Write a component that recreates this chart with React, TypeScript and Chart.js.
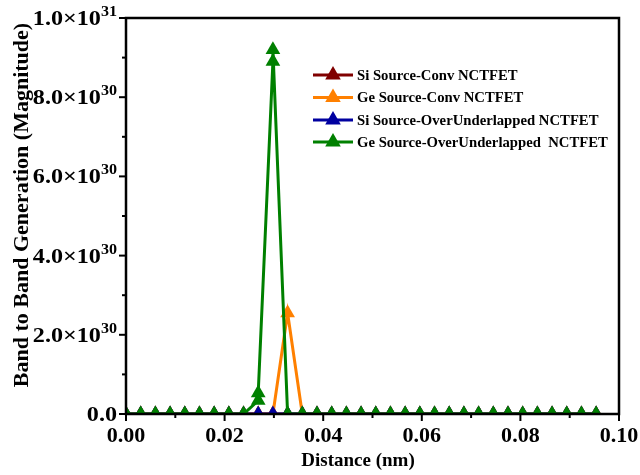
import React, { useEffect, useRef } from "react";
import { Chart, registerables } from "chart.js";

Chart.register(...registerables);

// ---- data ----
const baseX = [
  0, 0.00298, 0.00596, 0.00894, 0.01192, 0.0149, 0.01788, 0.02086, 0.02384, 0.02682,
  0.0298, 0.03278, 0.03576, 0.03874, 0.04172, 0.0447, 0.04768, 0.05066, 0.05364, 0.05662,
  0.0596, 0.06258, 0.06556, 0.06854, 0.07152, 0.0745, 0.07748, 0.08046, 0.08344, 0.08642,
  0.0894, 0.09238, 0.09536,
];
const siConvY = [
  0, 0, 0, 0, 0, 0, 0, 0, 0, 0, 0, 0, 0, 0, 0, 0, 0, 0, 0, 0, 0, 0, 0, 0, 0, 0, 0, 0, 0, 0, 0, 0, 0,
];
const geConvY = [
  0, 0, 0, 0, 0, 0, 0, 0, 0, 0, 0, 2.55e30, 0, 0, 0, 0, 0, 0, 0, 0, 0, 0, 0, 0, 0, 0, 0, 0, 0, 0, 0, 0, 0,
];
const siOverY = [
  0, 0, 0, 0, 0, 0, 0, 0, 0, 0, 0, 0, 0, 0, 0, 0, 0, 0, 0, 0, 0, 0, 0, 0, 0, 0, 0, 0, 0, 0, 0, 0, 0,
];
const geOverX = [
  0, 0.00298, 0.00596, 0.00894, 0.01192, 0.0149, 0.01788, 0.02086, 0.02384, 0.02682, 0.02682,
  0.0298, 0.0298, 0.03278, 0.03576, 0.03874, 0.04172, 0.0447, 0.04768, 0.05066, 0.05364, 0.05662,
  0.0596, 0.06258, 0.06556, 0.06854, 0.07152, 0.0745, 0.07748, 0.08046, 0.08344, 0.08642,
  0.0894, 0.09238, 0.09536,
];
const geOverY = [
  0, 0, 0, 0, 0, 0, 0, 0, 0, 0.34e30, 0.53e30, 8.9e30, 9.2e30, 0, 0, 0, 0, 0, 0, 0, 0, 0,
  0, 0, 0, 0, 0, 0, 0, 0, 0, 0, 0, 0, 0,
];

const seriesNames = [
  "Si Source-Conv NCTFET",
  "Ge Source-Conv NCTFET",
  "Si Source-OverUnderlapped NCTFET",
  "Ge Source-OverUnderlapped  NCTFET",
];
const seriesColors = ["#800000", "#FF8000", "#0000A0", "#008000"];

const xMajorTicks = [0, 0.02, 0.04, 0.06, 0.08, 0.1];
const xTickLabels = ["0.00", "0.02", "0.04", "0.06", "0.08", "0.10"];
const xMinorTicks = [0.01, 0.03, 0.05, 0.07, 0.09];
const yMajorTicks = [0, 2e30, 4e30, 6e30, 8e30, 1e31];
const yTickMantissa = ["0.0", "2.0\u00D710", "4.0\u00D710", "6.0\u00D710", "8.0\u00D710", "1.0\u00D710"];
const yTickExponent = ["", "30", "30", "30", "30", "31"];
const yMinorTicks = [1e30, 3e30, 5e30, 7e30, 9e30];

const xTitle = "Distance (nm)";
const yTitle = "Band to Band Generation (Magnitude)";

const FONT = "'Liberation Serif', 'Times New Roman', serif";

function pts(xs: number[], ys: number[]) {
  return xs.map((x, i) => ({ x, y: ys[i] }));
}

function tri(ctx: CanvasRenderingContext2D, x: number, y: number, r: number, color: string) {
  ctx.beginPath();
  ctx.moveTo(x, y - r);
  ctx.lineTo(x + r * 0.866, y + r / 2);
  ctx.lineTo(x - r * 0.866, y + r / 2);
  ctx.closePath();
  ctx.fillStyle = color;
  ctx.fill();
}

function textS(
  ctx: CanvasRenderingContext2D,
  text: string,
  x: number,
  y: number,
  sx: number,
  align: CanvasTextAlign
) {
  ctx.save();
  ctx.translate(x, y);
  ctx.scale(sx, 1);
  ctx.textAlign = align;
  ctx.fillText(text, 0, 0);
  ctx.restore();
}

const decorPlugin = {
  id: "decor",
  afterDatasetsDraw(chart: any) {
    const ctx: CanvasRenderingContext2D = chart.ctx;
    const { left, right, top, bottom } = chart.chartArea;
    const xs = chart.scales.x;
    const ys = chart.scales.y;
    ctx.save();
    ctx.strokeStyle = "#000";
    ctx.lineWidth = 2.5;
    ctx.strokeRect(left, top, right - left, bottom - top);

    // ticks
    ctx.lineWidth = 2;
    xMajorTicks.forEach((v) => {
      const px = xs.getPixelForValue(v);
      ctx.beginPath();
      ctx.moveTo(px, bottom);
      ctx.lineTo(px, bottom + 7);
      ctx.stroke();
    });
    xMinorTicks.forEach((v) => {
      const px = xs.getPixelForValue(v);
      ctx.beginPath();
      ctx.moveTo(px, bottom);
      ctx.lineTo(px, bottom + 4);
      ctx.stroke();
    });
    yMajorTicks.forEach((v) => {
      const py = ys.getPixelForValue(v);
      ctx.beginPath();
      ctx.moveTo(left, py);
      ctx.lineTo(left - 7, py);
      ctx.stroke();
    });
    yMinorTicks.forEach((v) => {
      const py = ys.getPixelForValue(v);
      ctx.beginPath();
      ctx.moveTo(left, py);
      ctx.lineTo(left - 4, py);
      ctx.stroke();
    });

    ctx.fillStyle = "#000";
    // x labels
    ctx.font = `bold 21px ${FONT}`;
    ctx.textBaseline = "middle";
    xMajorTicks.forEach((v, i) => {
      textS(ctx, xTickLabels[i], xs.getPixelForValue(v), bottom + 23, 1.05, "center");
    });
    // y labels
    const sy = 1.15;
    yMajorTicks.forEach((v, i) => {
      const py = ys.getPixelForValue(v);
      const rightEdge = left - 9;
      ctx.font = `bold 14px ${FONT}`;
      const ew = yTickExponent[i] ? ctx.measureText(yTickExponent[i]).width * sy : 0;
      ctx.textBaseline = "alphabetic";
      if (yTickExponent[i]) textS(ctx, yTickExponent[i], rightEdge - ew, py - 2, sy, "left");
      ctx.font = `bold 21px ${FONT}`;
      textS(ctx, yTickMantissa[i], rightEdge - ew, py + 7, sy, "right");
    });

    // titles
    ctx.textBaseline = "middle";
    ctx.font = `bold 19px ${FONT}`;
    textS(ctx, xTitle, 358, 461, 1.0, "center");
    ctx.save();
    ctx.font = `bold 22px ${FONT}`;
    ctx.translate(22, 205);
    ctx.rotate(-Math.PI / 2);
    ctx.textAlign = "center";
    ctx.fillText(yTitle, 0, 0);
    ctx.restore();

    // legend
    const rows = [75, 97.5, 120, 142];
    ctx.font = `bold 14px ${FONT}`;
    ctx.textBaseline = "middle";
    seriesNames.forEach((name, i) => {
      const y = rows[i];
      ctx.strokeStyle = seriesColors[i];
      ctx.lineWidth = 3;
      ctx.beginPath();
      ctx.moveTo(313, y);
      ctx.lineTo(353, y);
      ctx.stroke();
      tri(ctx, 333, y, 9, seriesColors[i]);
      ctx.fillStyle = "#000";
      textS(ctx, name, 357, y + 1, 1.05, "left");
    });
    ctx.restore();
  },
};

export default function App() {
  const ref = useRef<HTMLCanvasElement | null>(null);
  useEffect(() => {
    if (!ref.current) return;
    const mk = (label: string, data: any[], color: string, order: number) => ({
      label,
      data,
      borderColor: color,
      backgroundColor: color,
      borderWidth: 3,
      pointStyle: "triangle",
      pointRadius: 8.5,
      pointBorderWidth: 0,
      pointBackgroundColor: color,
      tension: 0,
      clip: 0,
      order,
    });
    const chart = new Chart(ref.current, {
      type: "line",
      data: {
        datasets: [
          mk(seriesNames[0], pts(baseX, siConvY), seriesColors[0], 3),
          mk(seriesNames[1], pts(baseX, geConvY), seriesColors[1], 2),
          mk(seriesNames[2], pts(baseX, siOverY), seriesColors[2], 1),
          mk(seriesNames[3], pts(geOverX, geOverY), seriesColors[3], 0),
        ] as any,
      },
      options: {
        responsive: false,
        animation: false,
        parsing: false as any,
        layout: { padding: { left: 126, right: 21, top: 18, bottom: 61 } },
        plugins: { legend: { display: false }, tooltip: { enabled: false } },
        scales: {
          x: { type: "linear", min: 0, max: 0.1, display: false },
          y: { type: "linear", min: 0, max: 1e31, display: false },
        },
      },
      plugins: [decorPlugin],
    });
    return () => chart.destroy();
  }, []);
  return (
    <div style={{ position: "absolute", left: 0, top: 0, width: 640, height: 475, background: "#fff" }}>
      <canvas ref={ref} width={640} height={475} />
    </div>
  );
}
